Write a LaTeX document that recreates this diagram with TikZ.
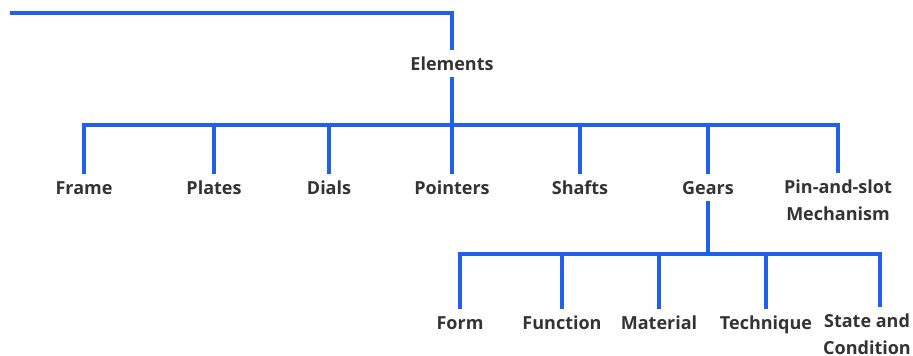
\documentclass[tikz,border=0pt]{standalone}
\usepackage{fontspec}
\setmainfont{Open Sans}[BoldFont={Open Sans Bold}]
\definecolor{linkblue}{HTML}{2160E8}
\definecolor{labelgray}{HTML}{333333}
\begin{document}
\begin{tikzpicture}[x=1pt,y=-1pt,
  conn/.style={draw=linkblue,line width=4pt,line join=miter},
  lbl/.style={font=\fontsize{18}{27}\selectfont\bfseries,text=labelgray,inner xsep=0pt,inner ysep=6.5pt},
  lbl2/.style={lbl,align=center}]
\useasboundingbox (0,0) rectangle (913,356);
% nodes
\node[lbl,anchor=base] (elements) at (452,70) {Elements};
\node[lbl,anchor=base] (frame) at (84,194) {Frame};
\node[lbl,anchor=base] (plates) at (214,194) {Plates};
\node[lbl,anchor=base] (dials) at (329,194) {Dials};
\node[lbl,anchor=base] (pointers) at (452,194) {Pointers};
\node[lbl,anchor=base] (shafts) at (580,194) {Shafts};
\node[lbl,anchor=base] (gears) at (708,194) {Gears};
\node[lbl2,anchor=north] (pin) at (838,173) {Pin-and-slot\\Mechanism};
\node[lbl,anchor=base] (form) at (460,329) {Form};
\node[lbl,anchor=base] (function) at (562,329) {Function};
\node[lbl,anchor=base] (material) at (659,329) {Material};
\node[lbl,anchor=base] (technique) at (766,329) {Technique};
\node[lbl2,anchor=north] (state) at (867,307) {State and\\Condition};
% junctions
\coordinate (start) at (10,13);
\coordinate (bar1) at (452,125);
\coordinate (bar2) at (708,254);
% connectors
\draw[conn] (start) -| (elements.north);
\draw[conn] (elements.south) -- (bar1);
\foreach \c in {frame,plates,dials,pointers,shafts,gears,pin}
  \draw[conn] (\c.north) |- (bar1);
\draw[conn] (gears.south) -- (bar2);
\foreach \c in {form,function,material,technique}
  \draw[conn] (\c.north) |- (bar2);
\draw[conn] ([xshift=13pt]state.north) |- (bar2);
\end{tikzpicture}
\end{document}
